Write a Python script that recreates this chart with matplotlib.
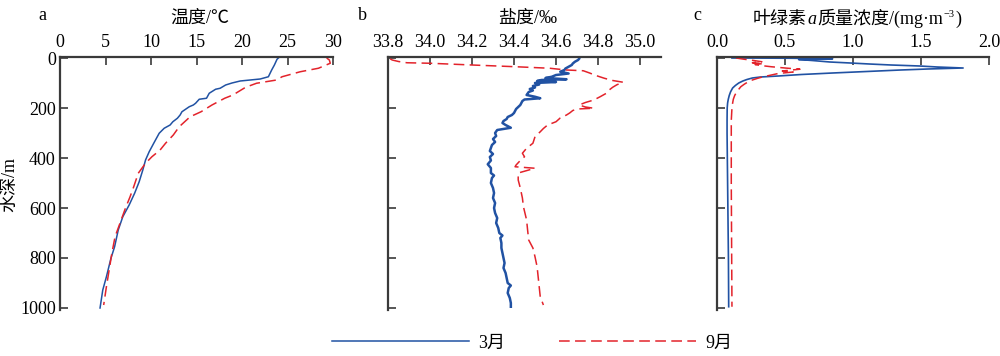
import matplotlib
matplotlib.use("Agg")
import matplotlib.pyplot as plt

plt.rcParams['font.family'] = ['Liberation Serif', 'Noto Sans CJK SC', 'DejaVu Sans']
plt.rcParams['axes.unicode_minus'] = False

# ---------------- data ----------------
series_names = ["3月", "9月"]

depth_temp_mar = [0, 5, 28, 48, 75, 84, 92, 100, 108, 121, 125, 141, 161, 165, 181, 188, 195, 215, 228, 241,
                  255, 268, 281, 301, 321, 341, 375, 408, 448, 495, 541, 588, 635, 688, 755, 801, 875, 928, 1000]
temp_mar = [24.0, 23.85, 23.56, 23.26, 22.9, 22.0, 19.8, 18.9, 18.2, 17.6, 17.1, 16.4, 16.1, 15.3,
            14.9, 14.65, 14.2, 13.4, 13.2, 12.9, 12.4, 12.1, 11.45, 10.9, 10.6, 10.3, 9.8, 9.4, 9.1, 8.7,
            8.2, 7.6, 6.9, 6.4, 6.0, 5.6, 5.1, 4.7, 4.4]

depth_temp_sep = [0, 8, 21, 41, 55, 64, 75, 88, 101, 117, 148, 161, 188, 215, 235, 275, 308, 341, 368, 395,
                  421, 461, 515, 555, 600, 640, 715, 781, 848, 915, 988]
temp_sep = [29.3, 29.6, 29.7, 28.4, 26.4, 25.5, 24.4, 23.8, 21.6, 20.4, 19.0, 18.1, 16.7, 15.5, 14.3,
            13.1, 12.45, 11.6, 11.0, 10.1, 9.4, 8.6, 8.1, 7.7, 7.2, 6.8, 6.05, 5.7, 5.4, 5.1, 4.8]

depth_sal_mar = [3, 8, 15, 22, 28, 35, 42, 48, 55, 62, 68, 75, 80, 85, 88, 92, 96, 100, 106, 112, 118, 124,
                 130, 136, 142, 148, 155, 161, 166, 172, 180, 188, 196, 204, 212, 220, 228, 236, 244, 252,
                 260, 268, 279, 288, 300, 312, 324, 336, 348, 360, 372, 384, 396, 410, 425, 440, 460, 470,
                 480, 500, 520, 540, 560, 580, 600, 620, 640, 660, 680, 700, 710, 720, 740, 760, 780, 800,
                 820, 840, 860, 880, 900, 910, 920, 940, 960, 980, 995]
sal_mar = [34.71, 34.705, 34.69, 34.68, 34.675, 34.66, 34.645, 34.64, 34.62, 34.66, 34.60, 34.58, 34.55,
           34.65, 34.53, 34.51, 34.60, 34.50, 34.52, 34.49, 34.50, 34.475, 34.49, 34.47, 34.465, 34.46,
           34.50, 34.525, 34.45, 34.44, 34.435, 34.43, 34.42, 34.41, 34.405, 34.40, 34.39, 34.37, 34.365,
           34.35, 34.345, 34.36, 34.385, 34.32, 34.31, 34.315, 34.30, 34.31, 34.295, 34.29, 34.285, 34.30,
           34.285, 34.29, 34.275, 34.29, 34.29, 34.305, 34.295, 34.29, 34.30, 34.305, 34.30, 34.31, 34.305,
           34.31, 34.32, 34.315, 34.325, 34.33, 34.345, 34.335, 34.34, 34.34, 34.345, 34.35, 34.355, 34.35,
           34.36, 34.365, 34.37, 34.385, 34.375, 34.37, 34.38, 34.385, 34.385]

depth_sal_sep = [3, 8, 14, 19, 21, 28, 35, 41, 48, 51, 60, 70, 81, 90, 97, 107, 117, 130, 141, 155, 168,
                 178, 188, 196, 201, 204, 210, 220, 228, 240, 255, 268, 282, 295, 315, 341, 361, 381, 395,
                 410, 428, 435, 441, 460, 488, 520, 560, 595, 648, 690, 728, 760, 795, 835, 875, 915, 955, 988]
sal_sep = [33.81, 33.82, 33.85, 33.89, 34.00, 34.20, 34.41, 34.57, 34.65, 34.73, 34.76, 34.79, 34.83,
           34.87, 34.92, 34.89, 34.87, 34.85, 34.84, 34.81, 34.78, 34.74, 34.71, 34.74, 34.78, 34.70, 34.68,
           34.665, 34.65, 34.62, 34.60, 34.56, 34.54, 34.525, 34.50, 34.49, 34.46, 34.44, 34.45, 34.43,
           34.41, 34.405, 34.50, 34.42, 34.42, 34.43, 34.44, 34.445, 34.46, 34.465, 34.47, 34.49, 34.50,
           34.51, 34.515, 34.52, 34.525, 34.54]

depth_chl_mar = [0, 1, 3, 6, 10, 16, 20, 24, 28, 32, 36, 40, 44, 48, 54, 60, 66, 72, 76, 80, 86, 92, 100,
                 110, 120, 135, 150, 165, 180, 200, 250, 300, 400, 500, 600, 700, 800, 900, 995]
chl_mar = [0.11, 0.55, 0.85, 0.60, 0.70, 0.83, 0.98, 1.12, 1.28, 1.49, 1.62, 1.81, 1.55, 1.35, 1.10, 0.85,
           0.62, 0.45, 0.32, 0.26, 0.22, 0.19, 0.16, 0.135, 0.115, 0.10, 0.09, 0.083, 0.078, 0.075, 0.074,
           0.074, 0.076, 0.078, 0.080, 0.082, 0.084, 0.085, 0.086]

depth_chl_sep = [0, 5, 10, 15, 19, 22, 26, 30, 35, 40, 45, 48, 52, 56, 62, 68, 75, 81, 88, 95, 105, 115,
                 125, 135, 150, 165, 180, 200, 250, 300, 400, 500, 600, 700, 800, 900, 995]
chl_sep = [0.14, 0.20, 0.27, 0.33, 0.26, 0.34, 0.28, 0.32, 0.40, 0.50, 0.61, 0.55, 0.48, 0.56, 0.45, 0.40,
           0.34, 0.30, 0.26, 0.23, 0.20, 0.175, 0.16, 0.145, 0.13, 0.12, 0.115, 0.11, 0.105, 0.105, 0.105,
           0.105, 0.106, 0.107, 0.108, 0.109, 0.11]

temp_ticks = [0, 5, 10, 15, 20, 25, 30]
sal_ticks = [33.8, 34.0, 34.2, 34.4, 34.6, 34.8, 35.0]
chl_ticks = [0.0, 0.5, 1.0, 1.5, 2.0]
depth_ticks = [0, 200, 400, 600, 800, 1000]

# ---------------- style ----------------
BLUE = '#2152a3'
RED = '#e3232b'
SPINE = '#3a3a3a'
FS = 13
DASH = (7, 3.5)

fig = plt.figure(figsize=(10, 3.56), dpi=100)
W, H = 1000.0, 356.0

def make_ax(left_px, right_px):
    top_px, bot_px = 57, 310
    ax = fig.add_axes([left_px / W, 1 - bot_px / H, (right_px - left_px) / W, (bot_px - top_px) / H])
    for s in ['right', 'bottom']:
        ax.spines[s].set_visible(False)
    for s in ['top', 'left']:
        ax.spines[s].set_linewidth(1.6)
        ax.spines[s].set_color(SPINE)
    ax.xaxis.tick_top()
    ax.tick_params(axis='both', direction='in', length=6, width=1.2, color=SPINE,
                   labelsize=FS, pad=4)
    ax.tick_params(axis='y', pad=3)
    ax.set_ylim(1008, -4)
    ax.set_yticks(depth_ticks)
    ax.set_facecolor('none')
    return ax

ax1 = make_ax(60, 333)
ax2 = make_ax(388, 661)
ax3 = make_ax(717, 989)

ax1.plot(temp_mar, depth_temp_mar, color=BLUE, lw=1.1, label=series_names[0])
ax1.plot(temp_sep, depth_temp_sep, color=RED, lw=1.1, dashes=DASH, label=series_names[1])
ax1.set_xlim(0, 30)
ax1.set_xticks(temp_ticks)

ax2.plot(sal_mar, depth_sal_mar, color=BLUE, lw=1.8)
ax2.plot(sal_sep, depth_sal_sep, color=RED, lw=1.1, dashes=DASH)
ax2.set_xlim(33.8, 35.1)
ax2.set_xticks(sal_ticks)
ax2.set_xticklabels([f"{v:.1f}" for v in sal_ticks])
ax2.tick_params(axis='y', labelleft=False)

ax3.plot(chl_mar, depth_chl_mar, color=BLUE, lw=1.2)
ax3.plot(chl_sep, depth_chl_sep, color=RED, lw=1.1, dashes=DASH)
ax3.set_xlim(0, 2.0)
ax3.set_xticks(chl_ticks)
ax3.set_xticklabels([f"{v:.1f}" for v in chl_ticks])
ax3.tick_params(axis='y', labelleft=False)

# titles and panel letters
fig.text(42 / W, 1 - 15 / H, "a", fontsize=FS, ha='center', va='center')
fig.text(362 / W, 1 - 15 / H, "b", fontsize=FS, ha='center', va='center')
fig.text(697 / W, 1 - 15 / H, "c", fontsize=FS, ha='center', va='center')

fig.text(200 / W, 1 - 18 / H, "温度/℃", fontsize=FS, ha='center', va='center')
fig.text(528 / W, 1 - 18 / H, "盐度/‰", fontsize=FS, ha='center', va='center')

# chlorophyll title assembled from pieces (italic a, superscript -3)
t1 = fig.text(753 / W, 1 - 28 / H, "叶绿素", fontsize=FS, ha='left', va='bottom')
t2 = ax3.annotate("a", xy=(1, 0), xycoords=t1, xytext=(0.5, 0), textcoords='offset points',
                  fontsize=FS, style='italic', ha='left', va='bottom', annotation_clip=False)
t3 = ax3.annotate("质量浓度/(mg·m", xy=(1, 0), xycoords=t2, xytext=(0.5, 0), textcoords='offset points',
                  fontsize=FS, ha='left', va='bottom', annotation_clip=False)
t4 = ax3.annotate("−3", xy=(1, 1), xycoords=t3, xytext=(0.3, -1), textcoords='offset points',
                  fontsize=7.5, ha='left', va='top', annotation_clip=False)
t5 = ax3.annotate(")", xy=(1, 0), xycoords=(t4, t3), xytext=(0.3, 0), textcoords='offset points',
                  fontsize=FS, ha='left', va='bottom', annotation_clip=False)

fig.text(10 / W, 1 - 185 / H, "水深/m", fontsize=FS, rotation=90, ha='center', va='center')

fig.legend(loc='center', bbox_to_anchor=(532 / W, 1 - 343 / H), ncol=2, frameon=False,
           fontsize=FS, handlelength=7.6, handletextpad=0.5, columnspacing=3.0)

fig.savefig("out.png", dpi=100)
